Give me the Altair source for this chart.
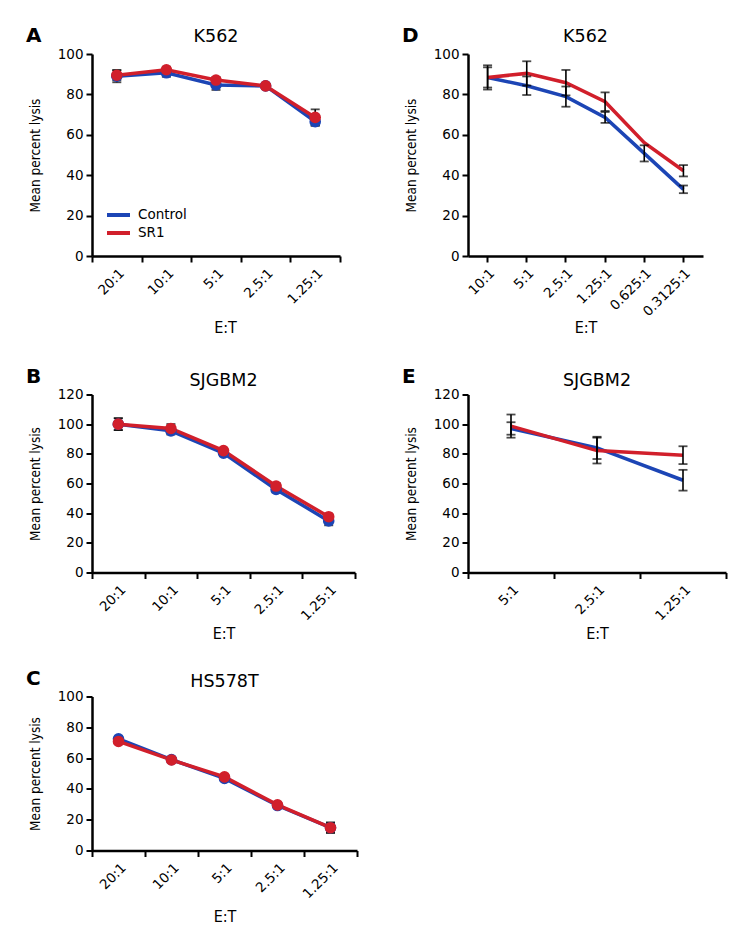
import altair as alt
import pandas as pd

BLUE = "#1c45b5"
RED = "#d11f2b"
FONT = "DejaVu Sans"
NARROW = "Liberation Sans Narrow, DejaVu Sans Condensed, Arial Narrow, sans-serif"

# ---- data ----
A_cats = ["20:1", "10:1", "5:1", "2.5:1", "1.25:1"]
A_ctrl = [89.0, 90.7, 84.7, 84.2, 66.5]
A_ctrl_err = [3.0, 2.0, 2.5, 1.0, 2.0]
A_sr1 = [89.5, 92.2, 87.1, 84.2, 68.6]
A_sr1_err = [2.5, 1.5, 1.5, 1.0, 4.0]

B_cats = ["20:1", "10:1", "5:1", "2.5:1", "1.25:1"]
B_ctrl = [100.0, 95.5, 80.5, 56.0, 34.8]
B_ctrl_err = [4.0, 2.5, 2.0, 2.0, 3.0]
B_sr1 = [100.0, 97.1, 82.2, 58.3, 37.6]
B_sr1_err = [4.0, 3.0, 1.5, 2.0, 2.0]

C_cats = ["20:1", "10:1", "5:1", "2.5:1", "1.25:1"]
C_ctrl = [72.5, 59.0, 46.8, 29.2, 14.8]
C_ctrl_err = [1.5, 1.0, 1.5, 1.5, 3.5]
C_sr1 = [70.8, 58.8, 47.8, 29.6, 14.8]
C_sr1_err = [1.0, 1.0, 1.0, 1.5, 3.0]

D_cats = ["10:1", "5:1", "2.5:1", "1.25:1", "0.625:1", "0.3125:1"]
D_ctrl = [88.4, 84.3, 78.9, 68.6, 50.8, 33.0]
D_ctrl_err = [6.0, 4.6, 5.0, 2.7, 4.0, 1.9]
D_sr1 = [88.4, 90.4, 85.8, 76.4, 56.1, 42.2]
D_sr1_err = [5.0, 6.0, 6.3, 4.6, 0.0, 2.8]

E_cats = ["5:1", "2.5:1", "1.25:1"]
E_ctrl = [97.1, 84.0, 62.2]
E_ctrl_err = [4.2, 7.5, 7.0]
E_sr1 = [98.7, 82.2, 79.1]
E_sr1_err = [7.8, 8.7, 6.0]

SERIES = ["Control", "SR1"]


def make_df(cats, ctrl, ctrl_err, sr1, sr1_err):
    rows = []
    for name, col, vals, errs in (("Control", BLUE, ctrl, ctrl_err), ("SR1", RED, sr1, sr1_err)):
        for i, c in enumerate(cats):
            rows.append(dict(cat=c, series=name, col=col, y=vals[i], err=errs[i],
                             lo=vals[i] - errs[i], hi=vals[i] + errs[i]))
    return pd.DataFrame(rows)


def panel(letter, title, cats, ctrl, ctrl_err, sr1, sr1_err, width, height, ymax,
          points, boundary_ticks, title_y, xtitle_x, xtitle_y, legend=False):
    df = make_df(cats, ctrl, ctrl_err, sr1, sr1_err)
    xscale = alt.Scale(domain=cats, paddingInner=0, paddingOuter=0)
    xaxis = alt.Axis(title="E:T", labelAngle=-45, tickBand="extent" if boundary_ticks else "center",
                     titleX=xtitle_x, titleY=xtitle_y, titleAlign="center", titleBaseline="alphabetic",
                     labelPadding=4, titleFontSize=16)
    yaxis = alt.Axis(title="Mean percent lysis", values=list(range(0, ymax + 1, 20)),
                     titleX=-57, titleY=height / 2, titleAngle=270, titleAlign="center",
                     titleBaseline="middle", labelPadding=3, titleFontSize=13.5)
    yscale = alt.Scale(domain=[0, ymax], nice=False, zero=True)
    X = alt.X("cat:N", scale=xscale, axis=xaxis, sort=cats)
    base = alt.Chart(df)

    err_rule = base.mark_rule(color="black", strokeWidth=1.6).encode(
        x=X, y=alt.Y("lo:Q", scale=yscale, axis=yaxis), y2="hi:Q"
    ).transform_filter("datum.err > 0")
    err_cap = base.transform_filter("datum.err > 0").transform_fold(["lo", "hi"], as_=["k", "v"]).mark_tick(
        color="black", size=9, thickness=1.8
    ).encode(x=X, y=alt.Y("v:Q", scale=yscale, axis=yaxis))

    if legend:
        col_enc = alt.Color("series:N", scale=alt.Scale(domain=SERIES, range=[BLUE, RED]),
                            legend=alt.Legend(orient="none", legendX=13, legendY=152, title=None,
                                              symbolType="stroke", symbolStrokeWidth=4, symbolSize=529,
                                              clipHeight=18, labelFont=FONT, labelFontSize=13.5,
                                              labelOffset=6, padding=0, rowPadding=0,
                                              symbolOffset=0, labelColor="black"))
        line = base.mark_line(strokeWidth=3.5).encode(x=X, y=alt.Y("y:Q", scale=yscale, axis=yaxis),
                                                      color=col_enc)
    else:
        line = base.mark_line(strokeWidth=3.5).encode(x=X, y=alt.Y("y:Q", scale=yscale, axis=yaxis),
                                                      stroke=alt.Stroke("col:N", scale=None),
                                                      detail="series:N")
    if points:
        dots = base.mark_circle(size=135, opacity=1).encode(
            x=X, y=alt.Y("y:Q", scale=yscale, axis=yaxis), fill=alt.Fill("col:N", scale=None))
        layers = [err_rule, err_cap, line, dots]
    else:
        layers = [line, err_rule, err_cap]

    tl = pd.DataFrame({"t": [letter]})
    tt = pd.DataFrame({"t": [title]})
    letter_mark = alt.Chart(tl).mark_text(font=FONT, fontSize=20, fontWeight="bold", align="left",
                                          baseline="alphabetic", color="black").encode(
        text="t:N", x=alt.value(-66), y=alt.value(-12))
    title_mark = alt.Chart(tt).mark_text(font=FONT, fontSize=17.5, align="center",
                                         baseline="alphabetic", color="black").encode(
        text="t:N", x=alt.value(width / 2), y=alt.value(title_y))
    layers += [letter_mark, title_mark]
    return alt.layer(*layers).properties(width=width, height=height)


A = panel("A", "K562", A_cats, A_ctrl, A_ctrl_err, A_sr1, A_sr1_err, 248, 202, 100,
          True, True, -12, 133, 76, legend=True)
B = panel("B", "SJGBM2", B_cats, B_ctrl, B_ctrl_err, B_sr1, B_sr1_err, 263, 178, 120,
          True, True, -9, 131.5, 66)
C = panel("C", "HS578T", C_cats, C_ctrl, C_ctrl_err, C_sr1, C_sr1_err, 265, 154, 100,
          True, True, -10, 132.5, 71)
D = panel("D", "K562", D_cats, D_ctrl, D_ctrl_err, D_sr1, D_sr1_err, 235, 202, 100,
          False, False, -12, 117.5, 76)
E = panel("E", "SJGBM2", E_cats, E_ctrl, E_ctrl_err, E_sr1, E_sr1_err, 258, 178, 120,
          False, True, -9, 129, 66)

col1 = alt.vconcat(A, alt.vconcat(B, C, spacing=27), spacing=31.5)
col2 = alt.vconcat(D, E, spacing=31.5)

chart = alt.hconcat(col1, col2, spacing=44).resolve_scale(
    color="independent").resolve_legend(color="independent").properties(
    padding={"left": 18, "top": 18, "right": 5, "bottom": 5}, background="white"
).configure_view(stroke=None).configure_axis(
    grid=False, domainColor="black", tickColor="black", labelColor="black", titleColor="black",
    domainWidth=2.5, tickWidth=2, tickSize=6, labelFont=FONT, labelFontSize=13.5,
    titleFont=NARROW, titleFontWeight="normal"
)

chart.save("out.html", embed_options={"renderer": "svg", "actions": False})
